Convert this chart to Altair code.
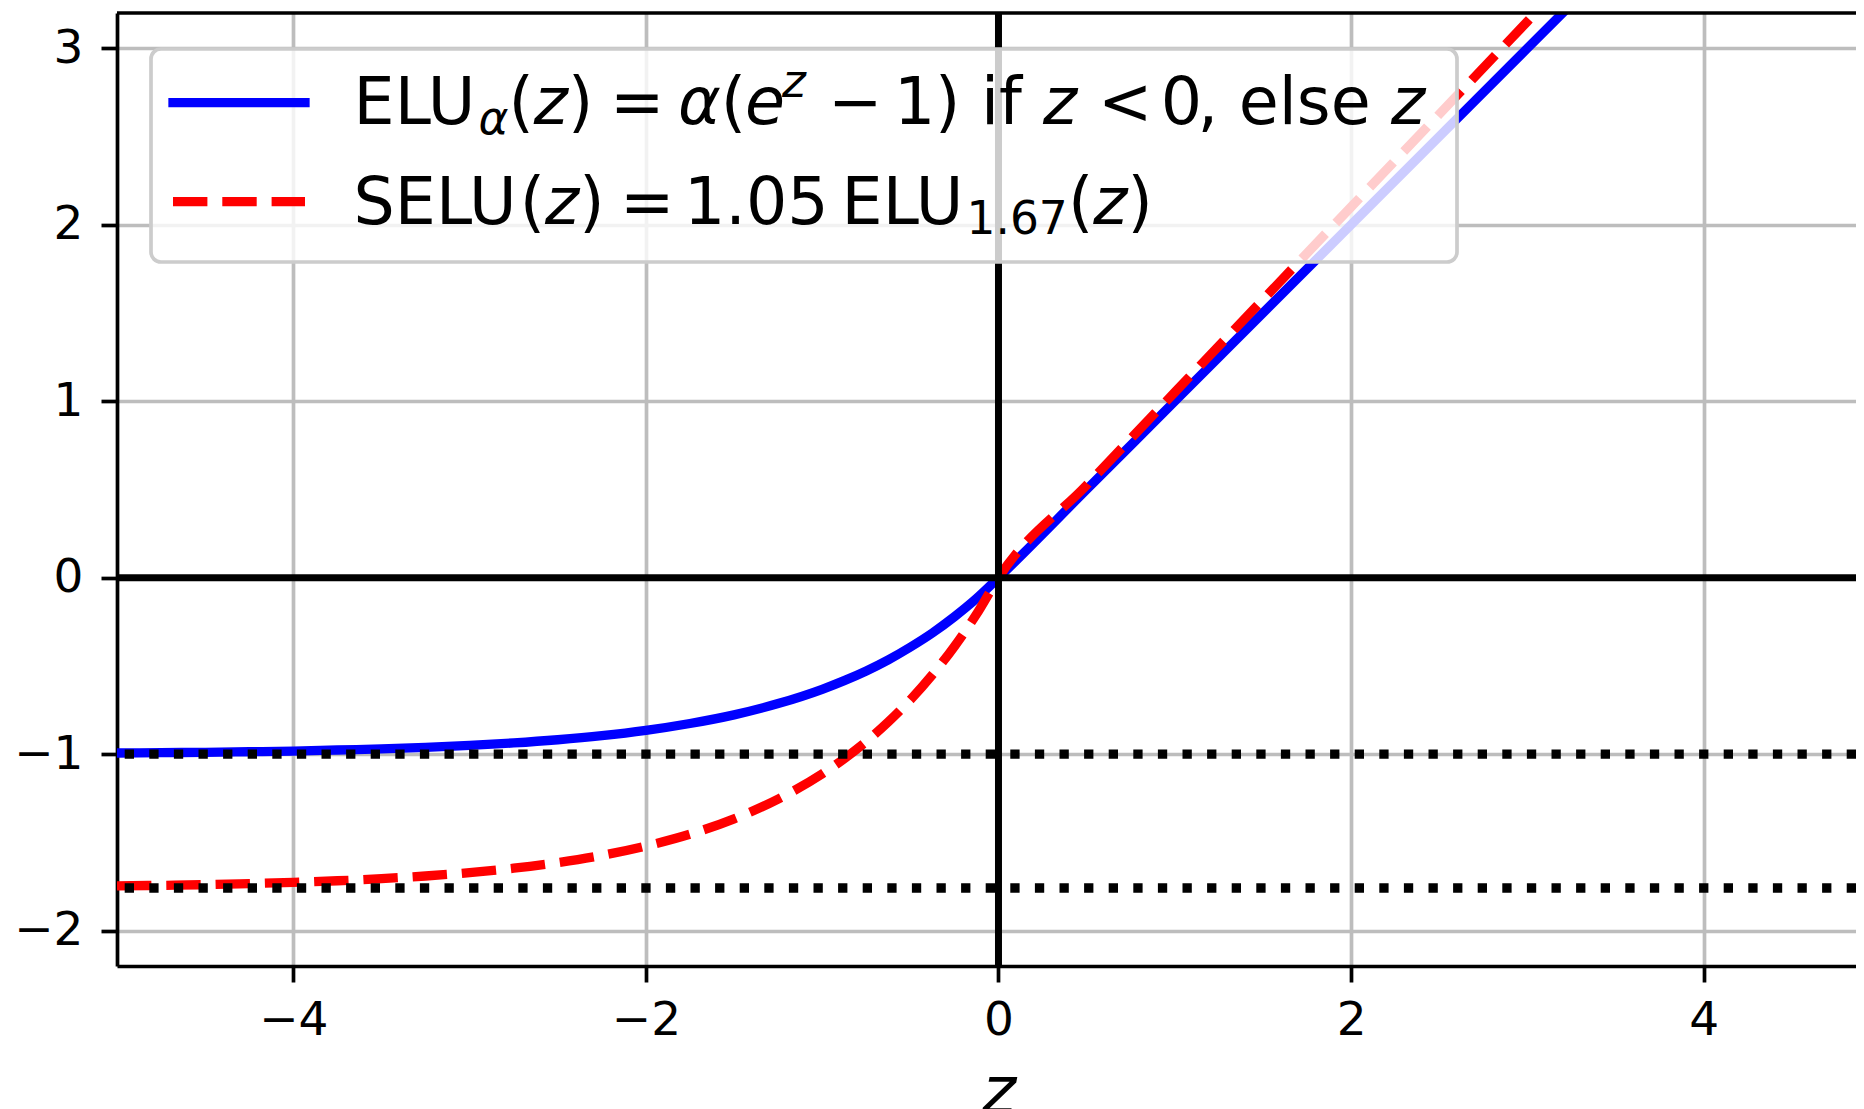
import altair as alt
import pandas as pd

# ---------------- data ----------------
Z = [-5.0, -4.75, -4.5, -4.25, -4.0, -3.75, -3.5, -3.25, -3.0, -2.75, -2.5,
     -2.25, -2.0, -1.75, -1.5, -1.25, -1.0, -0.875, -0.75, -0.625, -0.5,
     -0.375, -0.25, -0.125, 0.0, 0.5, 1.0, 2.0, 3.0, 4.0, 5.0]
ELU = [-0.993, -0.991, -0.989, -0.986, -0.982, -0.976, -0.970, -0.961, -0.950,
       -0.936, -0.918, -0.895, -0.865, -0.826, -0.777, -0.713, -0.632, -0.583,
       -0.528, -0.465, -0.393, -0.313, -0.221, -0.118, 0.0, 0.5, 1.0, 2.0,
       3.0, 4.0, 5.0]
SELU = [-1.746, -1.743, -1.739, -1.733, -1.726, -1.717, -1.705, -1.690, -1.671,
        -1.646, -1.614, -1.573, -1.520, -1.453, -1.366, -1.254, -1.111, -1.025,
        -0.928, -0.817, -0.692, -0.550, -0.389, -0.207, 0.0, 0.525, 1.051,
        2.101, 3.152, 4.203, 5.254]
ASYMPTOTES = [-1.0, -1.758]
ZERO = [0.0]
TOP = [3.2]
X_TICKS = [-4, -2, 0, 2, 4]
Y_TICKS = [-2, -1, 0, 1, 2, 3]
X_DOMAIN = [-5, 4.864]
Y_DOMAIN = [-2.2, 3.2]

FONT = "DejaVu Sans"
W, H = 1739, 953

curves = pd.DataFrame({"z": Z, "elu": ELU, "selu": SELU})
one = pd.DataFrame({"k": [0]})

xs = alt.Scale(domain=X_DOMAIN, nice=False, zero=False)
ys = alt.Scale(domain=Y_DOMAIN, nice=False, zero=False)

common_axis = dict(
    labelFont=FONT, labelFontSize=47, labelColor="black", labelFontWeight="normal",
    tickSize=16, tickWidth=3.7, tickColor="black",
    domainColor="black", domainWidth=3.7,
    grid=True, gridColor="#bdbdbd", gridWidth=3.7,
    labelFlush=False, labelOverlap=False,
    labelExpr="replace(datum.label, '-', '\u2212')",
)
x_axis = alt.Axis(values=X_TICKS, title="z", titleFont=FONT, titleFontSize=65,
                  titleFontStyle="italic", titleFontWeight="normal", titleColor="black",
                  titleBaseline="alphabetic", titleY=146, titleX=881.5,
                  labelPadding=15, **common_axis)
y_axis = alt.Axis(values=Y_TICKS, title="", labelPadding=18, **common_axis)


def X(field):
    return alt.X(field, type="quantitative", scale=xs, axis=x_axis)


def Y(field):
    return alt.Y(field, type="quantitative", scale=ys, axis=y_axis)


elu_line = alt.Chart(curves).mark_line(
    color="#0000ff", strokeWidth=9.3, clip=True, interpolate="monotone"
).encode(x=X("z"), y=Y("elu"))

selu_line = alt.Chart(curves).mark_line(
    color="#ff0000", strokeWidth=9.3, strokeDash=[34.4, 14.9], clip=True,
    interpolate="monotone"
).encode(x=X("z"), y=Y("selu"))

h_zero = alt.Chart(pd.DataFrame({"y": ZERO})).mark_rule(
    color="black", strokeWidth=7
).encode(y=Y("y"))

v_zero = alt.Chart(pd.DataFrame({"x": ZERO})).mark_rule(
    color="black", strokeWidth=7
).encode(x=X("x"))

dotted = alt.Chart(pd.DataFrame({"y": ASYMPTOTES})).mark_rule(
    color="black", strokeWidth=9.3, strokeDash=[9.3, 15.3]
).encode(y=Y("y"))

top_spine = alt.Chart(pd.DataFrame({"y": TOP})).mark_rule(
    color="black", strokeWidth=3.7
).encode(y=Y("y"))

# ---------------- custom legend (mathtext-like) ----------------
legend_box = alt.Chart(one).mark_rect(
    fill="white", fillOpacity=0.8, stroke="#cccccc", strokeWidth=3.7, cornerRadius=10
).encode(x=alt.value(34), x2=alt.value(1340), y=alt.value(36), y2=alt.value(249))

legend_blue = alt.Chart(one).mark_rule(
    color="#0000ff", strokeWidth=9.3, strokeCap="square"
).encode(x=alt.value(56), x2=alt.value(188), y=alt.value(89.7))

legend_red = alt.Chart(one).mark_rule(
    color="#ff0000", strokeWidth=9.3, strokeDash=[34.4, 14.9]
).encode(x=alt.value(56), x2=alt.value(188), y=alt.value(188.7))

B1, B2 = 111, 211
LEGEND_PIECES = [
    # line 1: ELU_α(z) = α(e^z − 1) if z < 0, else z
    ("ELU", 236.6, B1, 65, False),
    ("α", 361.5, B1 + 10, 45.5, True),
    ("(", 391.5, B1, 65, False),
    ("z", 416.8, B1, 65, True),
    (")", 451, B1, 65, False),
    ("=", 493, B1, 65, False),
    ("α", 561, B1, 65, True),
    ("(", 603.8, B1, 65, False),
    ("e", 628, B1, 65, True),
    ("z", 665, B1 - 27, 45.5, True),
    ("\u2212", 711, B1, 65, False),
    ("1", 777, B1, 65, False),
    (")", 818, B1, 65, False),
    ("if", 864, B1, 65, False),
    ("z", 926, B1, 65, True),
    ("<", 981, B1, 65, False),
    ("0", 1043.7, B1, 65, False),
    (", else", 1080.5, B1, 65, False),
    ("z", 1274, B1, 65, True),
    # line 2: SELU(z) = 1.05 ELU_1.67(z)
    ("SELU", 236.6, B2, 65, False),
    ("(", 402.7, B2, 65, False),
    ("z", 428, B2, 65, True),
    (")", 462.2, B2, 65, False),
    ("=", 503, B2, 65, False),
    ("1.05", 567, B2, 65, False),
    ("ELU", 724.6, B2, 65, False),
    ("1.67", 849.5, B2 + 10, 45.5, False),
    ("(", 951, B2, 65, False),
    ("z", 976.3, B2, 65, True),
    (")", 1010.4, B2, 65, False),
]


def piece(s, x, y, size, italic):
    kw = dict(align="left", baseline="alphabetic", font=FONT, fontSize=size, color="black")
    if italic:
        kw["fontStyle"] = "italic"
    return alt.Chart(pd.DataFrame({"t": [s]})).mark_text(**kw).encode(
        x=alt.value(x), y=alt.value(y), text=alt.Text("t:N")
    )


texts = [piece(*p) for p in LEGEND_PIECES]

chart = alt.layer(
    elu_line, selu_line, h_zero, v_zero, dotted, top_spine,
    legend_box, legend_blue, legend_red, *texts
).properties(
    width=W, height=H,
    autosize=alt.AutoSizeParams(type="none"),
    padding={"left": 109, "top": 5, "right": 0, "bottom": 143},
).configure_view(strokeWidth=0).configure(background="white")

chart.save("out.html", embed_options={"renderer": "svg", "actions": False})
